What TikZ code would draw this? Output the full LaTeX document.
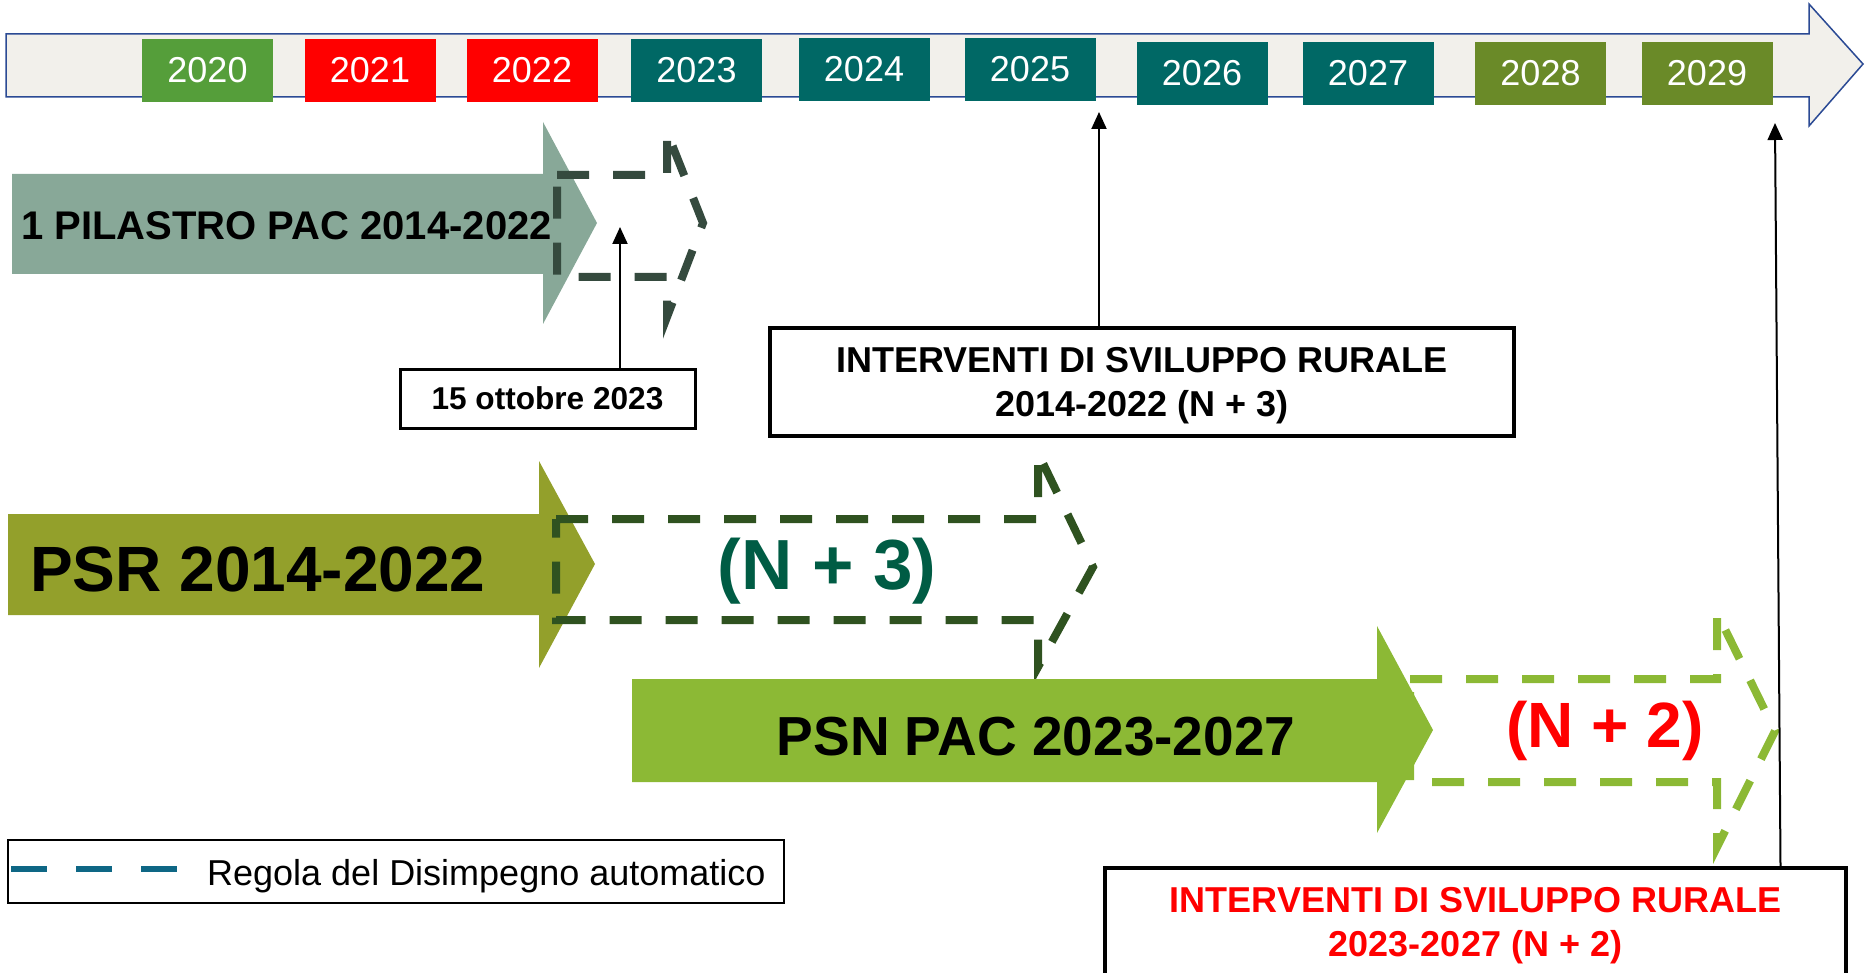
\documentclass[tikz,border=0pt]{standalone}
\usepackage{fontspec}
\setmainfont{Liberation Sans}
\usetikzlibrary{arrows.meta}

\definecolor{verdeanno}{HTML}{559E3A}
\definecolor{tealanno}{HTML}{006865}
\definecolor{olivaanno}{HTML}{6A8A28}
\definecolor{fondolinea}{HTML}{F2F0EB}
\definecolor{bordolinea}{HTML}{2B4A94}
\definecolor{pilastro}{HTML}{88A898}
\definecolor{psr}{HTML}{93A02B}
\definecolor{psn}{HTML}{8CB935}
\definecolor{scuro}{HTML}{354A3E}
\definecolor{bosco}{HTML}{2F5220}
\definecolor{enne}{HTML}{005C44}
\definecolor{legenda}{HTML}{0E6785}

\begin{document}
\begin{tikzpicture}[x=1pt,y=-1pt,
  anno/.style={minimum width=131pt, minimum height=63pt, inner sep=0pt, text=white, font=\fontsize{36}{40}\selectfont},
  nota/.style={draw, line width=4pt, align=center, inner sep=0pt, text depth=0pt, font=\bfseries\fontsize{36}{44}\selectfont},
  tratto/.style={line width=8pt, dash pattern=on 32pt off 24pt},
  freccia/.style={-{Triangle[width=15pt,length=17pt]}, line width=2pt},
]
\clip (0,0) rectangle (1865,973);
% linea del tempo
\draw[fill=fondolinea, draw=bordolinea, line width=1.5pt] (6,34) -- (1809,34) -- (1809,4) -- (1863,64) -- (1809,126) -- (1809,97) -- (6,97) -- cycle;
\node[anno, fill=verdeanno] (a2020) at (207.5,70.5){2020};
\node[anno, fill=red] (a2021) at (370,70.5){2021};
\node[anno, fill=red] (a2022) at (532,70.5){2022};
\node[anno, fill=tealanno] (a2023) at (696.5,70.5){2023};
\node[anno, fill=tealanno] (a2024) at (864,69.5){2024};
\node[anno, fill=tealanno] (a2025) at (1030,69.5){2025};
\node[anno, fill=tealanno] (a2026) at (1202,73.5){2026};
\node[anno, fill=tealanno] (a2027) at (1368,73.5){2027};
\node[anno, fill=olivaanno] (a2028) at (1540.5,73.5){2028};
\node[anno, fill=olivaanno] (a2029) at (1707,73.5){2029};

% primo pilastro
\fill[pilastro] (12,174) -- (543,174) -- (543,122) -- (597,223) -- (543,324) -- (543,274) -- (12,274) -- cycle;
\node[anchor=west, inner sep=0pt, font=\bfseries\fontsize{40}{48}\selectfont] (pil) at (21,226){1 PILASTRO PAC 2014-2022};
\draw[tratto, scuro] (557,175) -- (667,175) -- (667,132) -- (703,223) -- (667,317) -- (667,277) -- (557,277) -- cycle;

% PSR
\fill[psr] (8,514) -- (539,514) -- (539,461) -- (595,564) -- (539,668) -- (539,615) -- (8,615) -- cycle;
\node[anchor=west, inner sep=0pt, font=\bfseries\fontsize{64}{70}\selectfont] (psr) at (30,569){PSR 2014-2022};
\draw[tratto, bosco] (556,519) -- (1038,519) -- (1038,453) -- (1093,567) -- (1038,667) -- (1038,620) -- (556,620) -- cycle;
\node[text=enne, inner sep=0pt, font=\bfseries\fontsize{71}{80}\selectfont] (n3) at (827,571){(N + 3)};

% PSN
\draw[tratto, psn] (1410,679) -- (1717,679) -- (1717,613) -- (1775,731) -- (1717,847) -- (1717,782) -- (1410,782) -- cycle;
\fill[psn] (632,679) -- (1377,679) -- (1377,626) -- (1433,730) -- (1377,833) -- (1377,782) -- (632,782) -- cycle;
\node[inner sep=0pt, font=\bfseries\fontsize{55}{60}\selectfont] (psn) at (1036,737){PSN PAC 2023-2027};
\node[text=red, inner sep=0pt, font=\bfseries\fontsize{64}{70}\selectfont] (n2) at (1605,731){(N + 2)};

% riquadri
\node[nota, line width=3pt, minimum width=295pt, minimum height=59pt, font=\bfseries\fontsize{31.6}{36}\selectfont] (ott) at (547.5,398.5){15 ottobre 2023};
\coordinate (t23) at (620,227);
\draw[freccia] (ott.north -| t23) -- (t23);

\node[nota, minimum width=744pt, minimum height=108pt] (isr1) at (1142,382){INTERVENTI DI SVILUPPO RURALE\\2014-2022 (N + 3)};
\coordinate (t25) at (1099,112);
\draw[freccia] (isr1.north -| t25) -- (t25);

\node[nota, text=red, minimum width=741pt, minimum height=108pt] (isr2) at (1475.5,922){INTERVENTI DI SVILUPPO RURALE\\2023-2027 (N + 2)};
\coordinate (t29) at (1775,123);
\draw[freccia] ([xshift=305pt]isr2.north) -- (t29);

% legenda
\node[draw, line width=1.5pt, minimum width=776pt, minimum height=63pt, inner sep=0pt] (leg) at (396,871.5){};
\draw[legenda, line width=6pt, dash pattern=on 36pt off 29pt] ([xshift=4pt]leg.west |- 0,869) -- ([xshift=170pt]leg.west |- 0,869);
\node[anchor=base west, inner sep=0pt, font=\fontsize{36}{40}\selectfont] (legtxt) at (207,885){Regola del Disimpegno automatico};
\end{tikzpicture}
\end{document}
